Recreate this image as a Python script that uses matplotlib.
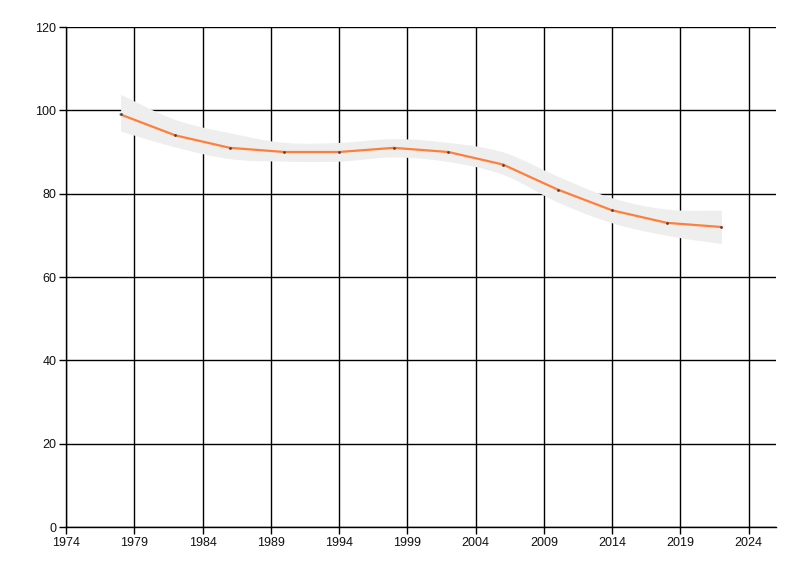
import numpy as np
import matplotlib
matplotlib.use("Agg")
import matplotlib.pyplot as plt

years = [1978, 1982, 1986, 1990, 1994, 1998, 2002, 2006, 2010, 2014, 2018, 2022]
values = [99, 94, 91, 90, 90, 91, 90, 87, 81, 76, 73, 72]
upper = [103.8, 97.8, 94.6, 92.3, 92.3, 93.2, 92.3, 90.0, 84.2, 79.0, 76.3, 76.0]
lower = [95.0, 91.2, 88.4, 87.8, 87.8, 88.8, 87.7, 84.6, 78.0, 73.0, 70.0, 68.0]
xticks = [1974, 1979, 1984, 1989, 1994, 1999, 2004, 2009, 2014, 2019, 2024]
yticks = [0, 20, 40, 60, 80, 100, 120]


def catmull_rom(xs, ys, n=20):
    xs = np.asarray(xs, float)
    ys = np.asarray(ys, float)
    px = np.concatenate([[2 * xs[0] - xs[1]], xs, [2 * xs[-1] - xs[-2]]])
    py = np.concatenate([[2 * ys[0] - ys[1]], ys, [2 * ys[-1] - ys[-2]]])
    ox, oy = [], []
    t = np.linspace(0, 1, n, endpoint=False)
    for i in range(1, len(px) - 2):
        for arr, out in ((px, ox), (py, oy)):
            p0, p1, p2, p3 = arr[i - 1], arr[i], arr[i + 1], arr[i + 2]
            out.extend(0.5 * ((2 * p1) + (-p0 + p2) * t
                              + (2 * p0 - 5 * p1 + 4 * p2 - p3) * t ** 2
                              + (-p0 + 3 * p1 - 3 * p2 + p3) * t ** 3))
    ox.append(xs[-1])
    oy.append(ys[-1])
    return np.array(ox), np.array(oy)


fig = plt.figure(figsize=(8, 5.76), dpi=100)
ax = fig.add_axes([66 / 800, 49 / 576, 710 / 800, 500 / 576])

ux, uy = catmull_rom(years, upper)
lx, ly = catmull_rom(years, lower)
ax.fill_between(ux, uy, ly, color="#EEEEEE", lw=0, zorder=1)

ax.plot(years, values, color="#FF7F3A", lw=1.6, zorder=3)
ax.scatter(years, values, s=4, color="#444444", zorder=4, lw=0)

ax.set_xlim(1974, 2026)
ax.set_ylim(0, 120)
ax.set_xticks(xticks)
ax.set_yticks(yticks)
ax.grid(True, color="black", lw=1)
ax.set_axisbelow(True)
for s in ("top", "right"):
    ax.spines[s].set_visible(False)
for s in ("left", "bottom"):
    ax.spines[s].set_color("black")
    ax.spines[s].set_linewidth(1)
ax.tick_params(axis="both", direction="out", length=5, width=1, color="black",
               labelsize=9, labelcolor="#111111", pad=2)
for lab in ax.get_xticklabels() + ax.get_yticklabels():
    lab.set_family(["Liberation Sans", "DejaVu Sans"])

fig.savefig("out.png", dpi=100, facecolor="white")
